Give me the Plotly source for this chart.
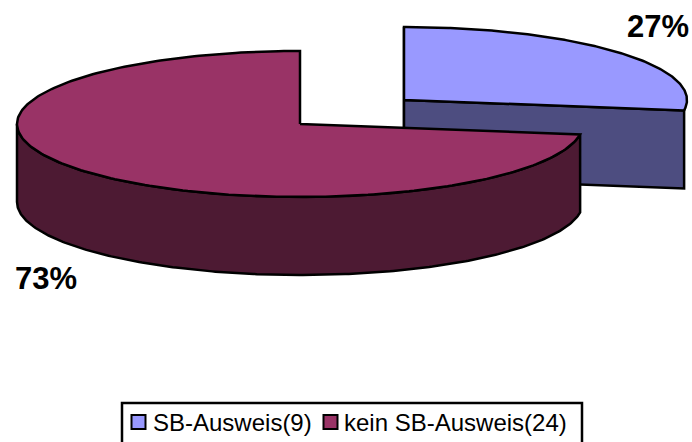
import numpy as np
import plotly.graph_objects as go

categories = ["SB-Ausweis(9)", "kein SB-Ausweis(24)"]
values = [9, 24]
labels = ["27%", "73%"]
top_colors = ["#9999FF", "#993366"]
side_colors = ["#4D4D80", "#4D1A33"]

RX, RY, DEPTH = 283, 73, 78
centers = [(404, 100), (300, 124)]
total = sum(values)
bounds = np.cumsum([0] + values) / total * 2 * np.pi


def rim(cx, cy, a):
    return cx + RX * np.sin(a), cy - RY * np.cos(a)


def closed(x, y):
    return list(x) + [x[0]], list(y) + [y[0]]


fig = go.Figure()


def poly(x, y, color):
    x, y = closed(x, y)
    fig.add_trace(go.Scatter(x=x, y=y, mode="lines", fill="toself", fillcolor=color,
                             line=dict(color="black", width=2.5), showlegend=False,
                             hoverinfo="skip", cliponaxis=False))


for i in (0, 1):
    cx, cy = centers[i]
    a0, a1 = bounds[i], bounds[i + 1]
    arc = np.linspace(a0, a1, 240)
    ax, ay = rim(cx, cy, arc)
    if i == 0:
        poly([cx, cx, cx, cx], [cy - RY, cy, cy + DEPTH, cy - RY], side_colors[i])
        ex, ey = rim(cx, cy, a1)
        poly([cx, ex, ex, cx], [cy, ey, ey + DEPTH, cy + DEPTH], side_colors[i])
    else:
        wall = np.linspace(a0, 1.5 * np.pi, 240)
        wx, wy = rim(cx, cy, wall)
        poly(list(wx) + list(wx[::-1]), list(wy) + list((wy + DEPTH)[::-1]), side_colors[i])
    poly([cx] + list(ax), [cy] + list(ay), top_colors[i])

# legend frame runs past the bottom edge of the picture, as in the reference
fig.add_shape(type="rect", x0=122, x1=582, y0=403, y1=460,
              line=dict(color="black", width=2.5), fillcolor="white", layer="below")

legend_marker_x = [138.5, 330.5]
legend_text_x = [151, 342]
for name, color, mx, tx in zip(categories, top_colors, legend_marker_x, legend_text_x):
    fig.add_trace(go.Scatter(x=[mx], y=[422], mode="markers", name=name, showlegend=False,
                             hoverinfo="name",
                             marker=dict(symbol="square", size=14, color=color,
                                         line=dict(color="black", width=2))))
    fig.add_annotation(x=tx, y=422, text=name, showarrow=False, xanchor="left",
                       font=dict(size=24, color="black", family="Liberation Sans"))

label_pos = [(658, 26), (46, 278)]
for text, (x, y) in zip(labels, label_pos):
    fig.add_annotation(x=x, y=y, text=f"<b>{text}</b>", showarrow=False,
                       font=dict(size=31, color="black", family="Liberation Sans"))

fig.update_layout(
    width=692, height=442, margin=dict(l=0, r=0, t=0, b=0),
    paper_bgcolor="white", plot_bgcolor="white",
    xaxis=dict(range=[0, 692], visible=False, fixedrange=True),
    yaxis=dict(range=[442, 0], visible=False, fixedrange=True),
    font=dict(family="Liberation Sans", size=24, color="black"),
    showlegend=False,
)
fig.write_html("out.html", config={"displayModeBar": False},
               post_script="document.body.style.margin='0';document.documentElement.style.overflow='hidden';")
